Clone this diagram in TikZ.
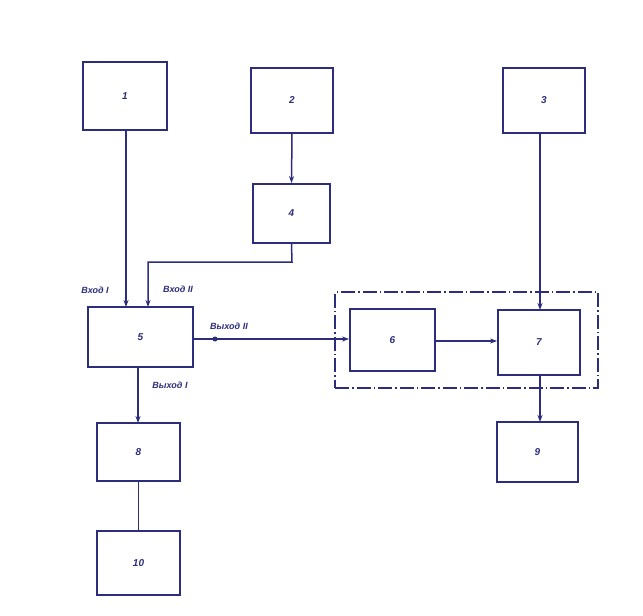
\documentclass[tikz,border=0pt]{standalone}
\usepackage{fontspec}
\setmainfont{Liberation Sans}
\usetikzlibrary{arrows.meta}
\definecolor{ink}{RGB}{45,45,125}
\begin{document}
\begin{tikzpicture}[x=1pt,y=-1pt,
  lbl/.style={text=ink,font=\small\bfseries\itshape,inner sep=1pt},
  num/.style={text=ink,font=\normalsize\bfseries\itshape},
  conn/.style={draw=ink,line width=1.5pt},
  arr/.style={conn,-{Stealth[length=7pt,width=5pt]}}]
\useasboundingbox (0,0) rectangle (643,616);
\newcommand{\bx}[5]{\node[draw=ink,line width=1.8pt,minimum width=#4pt,minimum height=#5pt,inner sep=0pt] (#1) at (#2,#3) {};}
\bx{b1}{125}{96}{84}{68}
\bx{b2}{292}{100.5}{82}{65}
\bx{b3}{544}{100.5}{82}{65}
\bx{b4}{291.5}{213.5}{77}{59}
\bx{b5}{140.5}{337}{105}{60}
\bx{b6}{392.5}{340}{85}{62}
\bx{b7}{539}{342.5}{82}{65}
\bx{b8}{138.5}{452}{83}{58}
\bx{b9}{537.5}{452}{81}{60}
\bx{b10}{138.5}{563}{83}{64}
\node[num] (n1) at (b1) {1};
\node[num] (n2) at (b2) {2};
\node[num] (n3) at (b3) {3};
\node[num] (n4) at (b4) {4};
\node[num] (n5) at (b5) {5};
\node[num] (n6) at (b6) {6};
\node[num] (n7) at (b7) {7};
\node[num] (n8) at (b8) {8};
\node[num] (n9) at (b9) {9};
\node[num] (n10) at (b10) {10};
% dashed group
\node[draw=ink,line width=1.3pt,dash pattern=on 14pt off 3pt on 1.5pt off 3pt,minimum width=263pt,minimum height=96pt,inner sep=0pt] (grp) at (466.5,340) {};
% connectors
\draw[arr] (b1.south -| 126,0) -- (126,307);
\draw[arr] (b2.south) -- (b4.north);
\coordinate (k1) at (292,262);
\coordinate (k2) at (148,262);
\draw[arr] (b4.south) -- (k1) -- (k2) -- (148,307);
\draw[arr] (b3.south -| 540,0) -- (540,310);
\draw[arr] (b5.east |- 0,339) -- (b6.west |- 0,339);
\fill[ink] (215,339) circle (2.5pt);
\draw[arr] (b6.east |- 0,341) -- (b7.west |- 0,341);
\draw[arr] (540,375) -- (540,422);
\draw[arr] (138,367) -- (138,423);
\draw[conn] (b8.south) -- (b10.north);
% labels
\node[lbl] (l1) at (95,290) {Вход I};
\node[lbl] (l2) at (178,289) {Вход II};
\node[lbl] (l3) at (229,326) {Выход II};
\node[lbl] (l4) at (170,385) {Выход I};
\end{tikzpicture}
\end{document}
